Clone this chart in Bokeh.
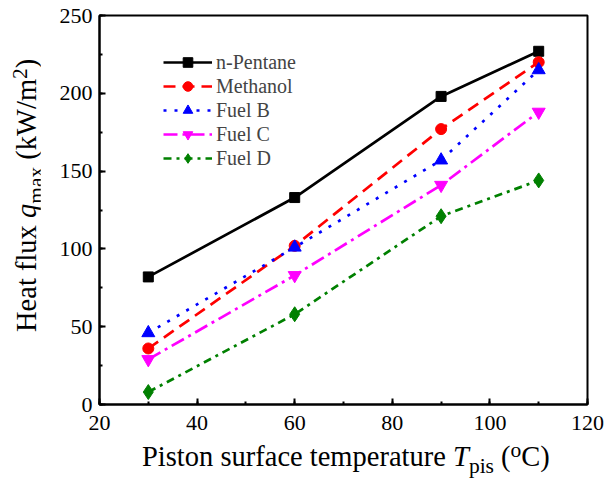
from bokeh.plotting import figure
from bokeh.models import Range1d, SingleIntervalTicker, Legend, LegendItem, Div
from bokeh.layouts import row, column
from bokeh.embed import file_html
from bokeh.resources import INLINE

# Piston surface temperature (°C) and peak heat flux (kW/m²) per fuel
temperature = [30, 60, 90, 110]
n_pentane = [82, 133, 198, 227]
methanol = [36, 102, 177, 220]
fuel_b = [46, 101, 157, 215]
fuel_c = [29, 83, 141, 188]
fuel_d = [8, 58, 121, 144]

series_names = ["n-Pentane", "Methanol", "Fuel B", "Fuel C", "Fuel D"]
x_ticks = [20, 40, 60, 80, 100, 120]
y_ticks = [0, 50, 100, 150, 200, 250]

FONT = "'Liberation Serif', 'Times New Roman', serif"
SIDE_W = 40          # width of the strip holding the vertical axis title
PLOT_W, PLOT_H = 575, 440
TITLE_H = 42

p = figure(width=PLOT_W, height=PLOT_H, output_backend="svg", toolbar_location=None,
           x_range=Range1d(x_ticks[0], x_ticks[-1]), y_range=Range1d(y_ticks[0], y_ticks[-1]),
           min_border_left=59, min_border_right=28, min_border_top=15,
           min_border_bottom=36)
p.grid.visible = False
p.outline_line_color = "black"
p.outline_line_width = 2
p.background_fill_color = "white"
p.border_fill_color = "white"

p.xaxis.ticker = SingleIntervalTicker(interval=20, num_minor_ticks=2)
p.yaxis.ticker = SingleIntervalTicker(interval=50, num_minor_ticks=2)
p.axis.axis_line_width = 2
p.axis.axis_line_color = "black"
p.axis.major_tick_in = 6
p.axis.major_tick_out = 0
p.axis.minor_tick_in = 3
p.axis.minor_tick_out = 0
p.axis.major_tick_line_width = 2
p.axis.minor_tick_line_width = 2
p.axis.major_label_text_font = FONT
p.axis.major_label_text_font_size = "22px"
p.axis.major_label_text_color = "black"
p.xaxis.major_label_standoff = 11
p.yaxis.major_label_standoff = 7
p.axis.axis_label = None

styles = [
    (n_pentane, "black", None, "square", 10),
    (methanol, "red", "12 7", "circle", 11),
    (fuel_b, "blue", "3 8", "triangle", 13),
    (fuel_c, "magenta", "14 5 3 5", "inverted_triangle", 13),
    (fuel_d, "green", "8 5 3 5", "diamond", 15),
]

items = []
for name, (vals, color, dash, marker, size) in zip(series_names, styles):
    kw = dict(line_dash=dash) if dash else {}
    ln = p.line(temperature, vals, line_color=color, line_width=2.7, **kw)
    sc = p.scatter(temperature, vals, marker=marker, size=size,
                   fill_color=color, line_color=color)
    items.append(LegendItem(label=name, renderers=[ln, sc]))

legend = Legend(items=items, location=(64, 234), margin=0, padding=0,
                glyph_width=49, glyph_height=24, label_height=24, spacing=0,
                label_standoff=4, label_text_font=FONT, label_text_font_size="20px",
                border_line_alpha=0, background_fill_alpha=0)
p.add_layout(legend, "center")

# Axis titles with italic symbols, subscripts and superscripts
TITLE_FS = 28.5
SMALL_FS = 21.5
ASCENT = 0.8375 * TITLE_FS   # baseline offset from the top of a 1.0 line box
base_css = (f"font-family:{FONT}; font-size:{TITLE_FS}px; line-height:{TITLE_FS}px;"
            "white-space:nowrap; color:black; margin:0; padding:0;")
sub = f'<span style="font-size:{SMALL_FS}px; position:relative; top:7px;">{{}}</span>'
sup = f'<span style="font-size:{SMALL_FS}px; position:relative; top:-9px;">{{}}</span>'

x_title_html = ("Piston surface temperature <i>T</i>" + sub.format("pis") +
                " (" + sup.format("o") + "C)")
y_title_html = ("Heat flux <i>q</i>" + sub.format("max") +
                " (kW/m" + sup.format("2") + ")")

x_base_y = 467 - PLOT_H       # baseline within the strip below the plot
x_div = Div(width=SIDE_W + PLOT_W, height=TITLE_H, margin=0,
            text=(f'<div style="position:relative; width:{SIDE_W + PLOT_W}px; height:{TITLE_H}px;">'
                  f'<div style="position:absolute; left:142px; top:{x_base_y - ASCENT:.1f}px; {base_css}">'
                  f'{x_title_html}</div></div>'))

y_div = Div(width=SIDE_W, height=PLOT_H, margin=0,
            text=(f'<div style="position:relative; width:{SIDE_W}px; height:{PLOT_H}px;">'
                  f'<div style="position:absolute; left:{37 - ASCENT:.1f}px; top:332px;'
                  f' transform-origin:0 0; transform:rotate(-90deg); {base_css}">'
                  f'{y_title_html}</div></div>'))

layout = column(row(y_div, p, spacing=0), x_div, spacing=0)

open("out.html", "w").write(file_html(layout, INLINE))
